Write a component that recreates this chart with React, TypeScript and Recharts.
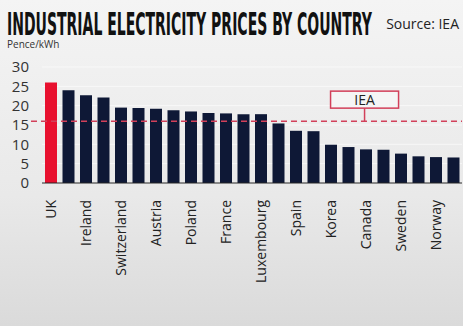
import { BarChart, Bar, XAxis, YAxis, CartesianGrid, ReferenceLine, Cell } from 'recharts'

const countries = [
  'UK', 'Japan', 'Ireland', 'Italy', 'Switzerland', 'Germany', 'Austria', 'Slovakia',
  'Poland', 'Portugal', 'France', 'Belgium', 'Luxembourg', 'Greece', 'Spain', 'Hungary',
  'Korea', 'Czech Republic', 'Canada', 'Finland', 'Sweden', 'United States', 'Norway', 'Turkey',
]
const prices = [
  26.0, 24.0, 22.7, 22.1, 19.5, 19.4, 19.2, 18.8,
  18.5, 18.1, 18.0, 17.8, 17.8, 15.4, 13.5, 13.4,
  9.9, 9.3, 8.7, 8.6, 7.6, 6.9, 6.7, 6.6,
]
const yTicks = [0, 5, 10, 15, 20, 25, 30]
const ieaAverage = 16

const data = countries.map((country, i) => ({ country, price: prices[i] }))

const font = '"Open Sans", "Liberation Sans", sans-serif'
const red = '#d2405a'

const title = 'INDUSTRIAL ELECTRICITY PRICES BY COUNTRY'
const titleFont = 'bold 32px "Liberation Sans Narrow", "DejaVu Sans Condensed", sans-serif'

// squeeze the title into the width the reference uses
function titleScale() {
  const ctx = document.createElement('canvas').getContext('2d')
  if (!ctx) return 0.6
  ctx.font = titleFont
  const w = ctx.measureText(title).width
  return w > 0 ? 365 / w : 0.6
}
const scaleX = titleScale()

function CountryTick({ x, y, payload }: any) {
  return (
    <text
      transform={`translate(${x},${y + 9}) rotate(-90)`}
      textAnchor="end"
      dy="0.36em"
      fontSize={14}
      fill="#222"
      fontFamily={font}
    >
      {payload.value}
    </text>
  )
}

function IeaLabel({ viewBox }: any) {
  const cx = viewBox.x + viewBox.width * 0.768
  const y = viewBox.y
  return (
    <g>
      <line x1={cx} y1={y - 13} x2={cx} y2={y} stroke={red} strokeWidth={1.5} />
      <rect x={cx - 34} y={y - 30} width={68} height={17} fill="#f5f5f5" stroke={red} strokeWidth={1.5} />
      <text x={cx} y={y - 21.5} textAnchor="middle" dominantBaseline="central" fontSize={14} fill="#222" fontFamily={font}>
        IEA
      </text>
    </g>
  )
}

function DashedLine(props: any) {
  return (
    <line
      x1={props.x1 - 11}
      y1={props.y1}
      x2={props.x2}
      y2={props.y2}
      stroke={red}
      strokeWidth={1.5}
      strokeDasharray="6 4"
    />
  )
}

export default function App() {
  return (
    <div
      style={{
        position: 'absolute',
        left: 0,
        top: 0,
        width: 463,
        height: 326,
        background: 'linear-gradient(#f4f4f4, #e9e9e9 60%, #dadada)',
        overflow: 'hidden',
      }}
    >
      <svg width={463} height={60} style={{ position: 'absolute', left: 0, top: 0 }}>
        <text
          transform={`translate(7,35) scale(${scaleX},1)`}
          style={{ font: titleFont }}
          fill="#111"
        >
          {title}
        </text>
        <text x={459} y={29} textAnchor="end" fontSize={14} fill="#222" fontFamily={font}>
          Source: IEA
        </text>
        <text x={7} y={48} fontSize={10} fill="#333" fontFamily={font}>
          Pence/kWh
        </text>
      </svg>
      <BarChart
        width={463}
        height={326}
        data={data}
        margin={{ top: 67, right: 1, left: 0, bottom: 0 }}
        style={{ position: 'absolute', left: 0, top: 0 }}
      >
        <CartesianGrid vertical={false} stroke="#ffffff" strokeOpacity={0.6} />
        <XAxis
          dataKey="country"
          interval={1}
          height={143}
          tickLine={false}
          axisLine={{ stroke: '#222', strokeWidth: 1 }}
          tick={<CountryTick />}
        />
        <YAxis
          domain={[0, 30]}
          ticks={yTicks}
          interval={0}
          width={42}
          tickLine={false}
          axisLine={false}
          tickSize={0}
          tickMargin={13}
          tick={{ fontSize: 15, fill: '#333', fontFamily: font }}
        />
        <Bar dataKey="price" barSize={12} isAnimationActive={false}>
          {data.map((d, i) => (
            <Cell key={d.country} fill={i === 0 ? '#e8102e' : '#0e1836'} />
          ))}
        </Bar>
        <ReferenceLine y={ieaAverage} shape={<DashedLine />} label={<IeaLabel />} />
      </BarChart>
    </div>
  )
}
